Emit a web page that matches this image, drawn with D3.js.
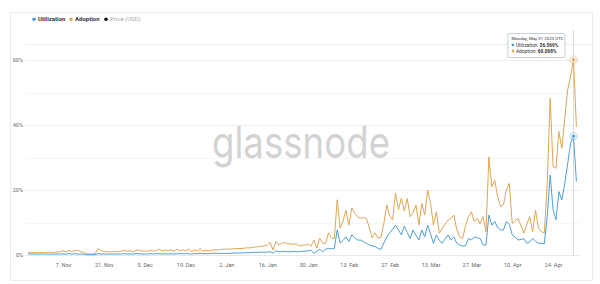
<!DOCTYPE html>
<html>
<head>
<meta charset="utf-8">
<script src="https://cdn.jsdelivr.net/npm/d3@7"></script>
<style>
  body { margin: 0; background: #fff; }
  svg { display: block; }
  text { font-family: Roboto, "Noto Sans", sans-serif; }
</style>
</head>
<body>
<svg width="600" height="284"></svg>
<script>
// daily series, first day 26 Oct 2022, last day 2 May 2023
const startDay = "2022-10-26";

const adoption = [
  0.8,0.8,0.7,0.8,0.8,0.7,0.8,0.9,0.8,0.8,0.9,1.0,
  1.3,1.0,1.4,1.1,1.3,1.5,1.0,0.9,0.4,0.3,0.3,0.4,2.0,1.4,
  1.1,1.0,1.0,1.0,1.1,1.0,1.2,1.4,1.2,1.3,1.0,1.4,1.6,1.2,
  1.3,1.1,1.5,1.2,1.4,1.8,1.2,1.5,1.3,1.6,1.1,1.8,1.3,1.6,
  1.2,1.9,1.0,1.6,1.3,2.0,1.2,1.4,1.3,1.5,1.6,1.5,1.7,1.8,
  1.8,1.8,1.9,1.9,2.0,2.0,2.1,2.2,2.2,2.3,2.5,2.6,2.7,2.8,
  3.0,3.9,1.5,4.2,3.1,3.6,3.8,3.5,3.4,3.3,3.4,2.8,3.0,3.1,
  3.3,2.7,4.6,2.1,5.2,3.7,3.5,6.8,5.2,5.0,17.0,8.3,10.5,13.8,
  9.2,14.5,12.8,11.8,11.3,11.5,11.3,8.3,5.2,6.8,5.2,5.5,9.8,15.4,
  12.0,10.8,19.0,14.0,17.5,13.5,17.4,11.8,13.0,15.4,9.2,15.9,12.3,20.0,
  15.9,9.2,13.3,6.7,8.2,9.5,10.8,11.3,12.3,7.7,5.6,5.1,9.0,11.8,
  13.3,10.3,11.3,9.7,11.8,7.2,30.2,21.0,23.0,18.0,14.9,15.5,20.0,22.0,
  9.7,10.5,11.3,9.0,6.7,9.5,11.8,7.2,13.8,8.2,7.2,6.8,22.0,48.2,
  27.2,26.7,38.0,32.8,42.0,50.8,55.0,60.068,39.5
];

const utilization = [
  0.3,0.3,0.3,0.3,0.3,0.3,0.3,0.3,0.3,0.3,0.3,0.3,
  0.3,0.3,0.4,0.3,0.4,0.3,0.3,0.3,0.1,0.1,0.1,0.1,0.4,0.3,
  0.3,0.3,0.3,0.3,0.3,0.3,0.3,0.4,0.3,0.3,0.3,0.4,0.4,0.3,
  0.3,0.3,0.4,0.3,0.4,0.4,0.3,0.4,0.3,0.4,0.3,0.4,0.4,0.4,
  0.4,0.4,0.3,0.4,0.4,0.5,0.4,0.4,0.4,0.5,0.5,0.5,0.5,0.5,
  0.5,0.5,0.6,0.6,0.6,0.6,0.7,0.7,0.7,0.8,0.8,0.8,0.9,0.8,
  0.9,1.0,0.6,1.3,1.0,1.0,1.1,1.0,1.0,1.1,1.0,1.0,1.1,1.2,
  1.3,1.5,0.5,1.2,1.75,1.0,1.8,2.0,1.9,2.0,7.7,3.7,4.5,5.6,
  4.1,6.2,5.3,4.6,4.6,4.1,3.6,3.1,2.8,2.6,2.0,1.75,3.7,5.5,
  6.8,8.0,9.2,7.7,6.2,8.9,6.9,5.1,7.7,6.0,4.6,7.7,5.6,9.2,
  6.5,3.6,6.2,4.5,3.6,5.0,6.2,4.6,5.6,3.6,3.0,2.8,2.8,5.1,
  4.6,5.6,5.3,5.1,3.1,3.0,12.3,9.2,10.3,8.5,7.7,7.7,10.3,9.5,
  6.2,5.5,4.6,4.8,5.0,3.6,4.0,5.1,4.2,3.6,3.6,3.5,11.8,24.6,
  14.0,10.8,19.5,16.9,22.0,28.0,34.4,36.569,22.6
];

const xTickDays = ["2022-11-07","2022-11-21","2022-12-05","2022-12-19","2023-01-02","2023-01-16",
  "2023-01-30","2023-02-13","2023-02-27","2023-03-13","2023-03-27","2023-04-10","2023-04-24"];
const yTicks = [0, 20, 40, 60];
const yMinor = [10, 30, 50];
const legendNames = ["Utilization", "Adoption", "Price (USD)"];
const hoverDay = "2023-05-01";

const colors = { util: "#4f9fd6", adopt: "#e0a559", price: "#111" };

const parse = d3.utcParse("%Y-%m-%d");
const start = parse(startDay);
const days = adoption.map((_, i) => d3.utcDay.offset(start, i));

const svg = d3.select("svg");

// card frame
svg.append("rect")
  .attr("x", 10.5).attr("y", 12.5).attr("width", 582).attr("height", 268)
  .attr("fill", "none").attr("stroke", "#ececec");

const x = d3.scaleUtc().domain([days[0], days[days.length - 1]]).range([28, 576.4]);
const y = d3.scaleLinear().domain([0, 60]).range([255, 60]);

// grid
svg.append("g").selectAll("line").data(yMinor).join("line")
  .attr("x1", 25).attr("x2", 580)
  .attr("y1", d => Math.round(y(d)) + 0.5).attr("y2", d => Math.round(y(d)) + 0.5)
  .attr("stroke", "#f6f6f6");
svg.append("g").selectAll("line").data(yTicks.slice(1)).join("line")
  .attr("x1", 25).attr("x2", 580)
  .attr("y1", d => Math.round(y(d)) + 0.5).attr("y2", d => Math.round(y(d)) + 0.5)
  .attr("stroke", "#eeeeee");
svg.append("line")
  .attr("x1", 25).attr("x2", 592).attr("y1", 44.5).attr("y2", 44.5)
  .attr("stroke", "#eeeeee");

// watermark
svg.append("text")
  .attr("x", 301).attr("y", 158)
  .attr("text-anchor", "middle")
  .attr("font-size", 44)
  .attr("textLength", 178).attr("lengthAdjust", "spacingAndGlyphs")
  .attr("fill", "#d3d3d3")
  .style("font-family", "Inter, 'Noto Sans', sans-serif")
  .text("glassnode");

// y axis labels
svg.append("g").selectAll("text").data(yTicks).join("text")
  .attr("x", 23).attr("y", d => y(d) + 2)
  .attr("text-anchor", "end")
  .attr("font-size", 5.5).attr("fill", "#666")
  .text(d => d + "%");

// x axis
const xAxis = d3.axisBottom(x)
  .tickValues(xTickDays.map(parse))
  .tickFormat(d3.utcFormat("%-d. %b"))
  .tickSize(0).tickPadding(8);
const gx = svg.append("g").attr("transform", "translate(0,255)").call(xAxis);
gx.select(".domain").remove();
gx.selectAll("text").attr("font-size", 5.5).attr("fill", "#666")
  .style("font-family", "Roboto, 'Noto Sans', sans-serif");

// crosshair
const hx = x(parse(hoverDay));
svg.append("line")
  .attr("x1", Math.round(hx) + 0.5).attr("x2", Math.round(hx) + 0.5)
  .attr("y1", 30).attr("y2", 255)
  .attr("stroke", "#dcdcdc");

// baseline
svg.append("line")
  .attr("x1", 25).attr("x2", 580).attr("y1", 255.5).attr("y2", 255.5)
  .attr("stroke", "#e8e8e8");

// series
const line = vals => d3.line()
  .x((d, i) => x(days[i]))
  .y(d => y(d))(vals);

svg.append("path").attr("d", line(adoption))
  .attr("fill", "none").attr("stroke", colors.adopt).attr("stroke-width", 1);
svg.append("path").attr("d", line(utilization))
  .attr("fill", "none").attr("stroke", colors.util).attr("stroke-width", 1);

// hover markers
const hi = days.findIndex(d => +d === +parse(hoverDay));
[[adoption, colors.adopt], [utilization, colors.util]].forEach(([vals, c]) => {
  svg.append("circle").attr("cx", hx).attr("cy", y(vals[hi])).attr("r", 4.5)
    .attr("fill", c).attr("opacity", 0.25);
  svg.append("circle").attr("cx", hx).attr("cy", y(vals[hi])).attr("r", 2)
    .attr("fill", c).attr("stroke", "#fff").attr("stroke-width", 0.8);
});

// legend
const legendColors = [colors.util, colors.adopt, colors.price];
const legendX = [34, 71, 106];
const lg = svg.append("g").selectAll("g").data(legendNames).join("g")
  .attr("transform", (d, i) => `translate(${legendX[i]},21)`);
lg.append("circle").attr("r", 1.8).attr("cy", -1.8)
  .attr("fill", (d, i) => legendColors[i]);
lg.append("text").attr("x", 4).attr("font-size", 6)
  .attr("font-weight", (d, i) => i < 2 ? "bold" : "normal")
  .attr("fill", (d, i) => i < 2 ? "#333" : "#aaa")
  .text(d => d);

// tooltip
const tt = svg.append("g").attr("transform", `translate(${hx - 66},33)`);
tt.append("rect").attr("x", 0.5).attr("y", 0.5).attr("width", 57).attr("height", 24).attr("rx", 1.5)
  .attr("fill", "#fff").attr("fill-opacity", 0.92).attr("stroke", "#b8c4cc").attr("stroke-width", 0.8);
tt.append("text").attr("x", 4).attr("y", 7).attr("font-size", 4.4).attr("fill", "#333")
  .text(d3.utcFormat("%A, %b %d %Y UTC")(parse(hoverDay)));
const rows = [["Utilization", utilization[hi], colors.util], ["Adoption", adoption[hi], colors.adopt]];
rows.forEach(([name, v, c], i) => {
  const ty = 13.5 + i * 6;
  tt.append("circle").attr("cx", 5.5).attr("cy", ty - 1.5).attr("r", 1.4).attr("fill", c);
  const t = tt.append("text").attr("x", 8.5).attr("y", ty).attr("font-size", 4.8).attr("fill", "#333");
  t.append("tspan").text(name + ": ");
  t.append("tspan").attr("font-weight", "bold").text(v.toFixed(3) + "%");
});
</script>
</body>
</html>
